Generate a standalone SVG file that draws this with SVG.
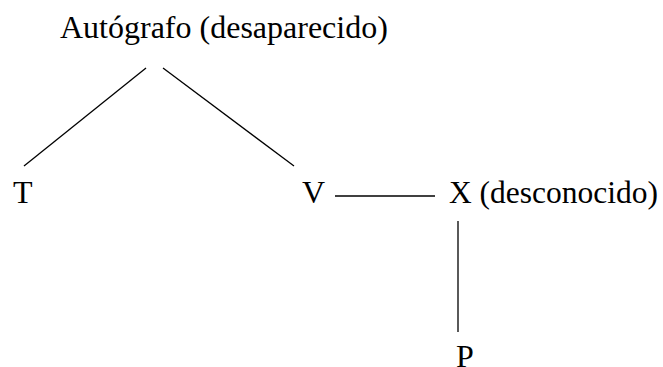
<svg xmlns="http://www.w3.org/2000/svg" width="663" height="367" viewBox="0 0 663 367">
<style>
text{font-family:"Liberation Serif","Times New Roman",serif;font-size:32px;fill:#000}
.c line{stroke:#000;stroke-width:1.3}
</style>
<rect width="663" height="367" fill="#fff"/>
<g class="c" id="connectors">
<line x1="146" y1="68" x2="24" y2="166"/>
<line x1="163" y1="68" x2="294" y2="166"/>
<line x1="335" y1="196" x2="435" y2="196"/>
<line x1="458" y1="221" x2="458" y2="332"/>
</g>
<g id="autografo"><text x="60" y="38">Autógrafo (desaparecido)</text></g>
<g id="T"><text x="13" y="203">T</text></g>
<g id="V"><text x="302" y="203">V</text></g>
<g id="X"><text x="449" y="203" style="font-size:31.5px">X (desconocido)</text></g>
<g id="P"><text x="456" y="367">P</text></g>
</svg>
